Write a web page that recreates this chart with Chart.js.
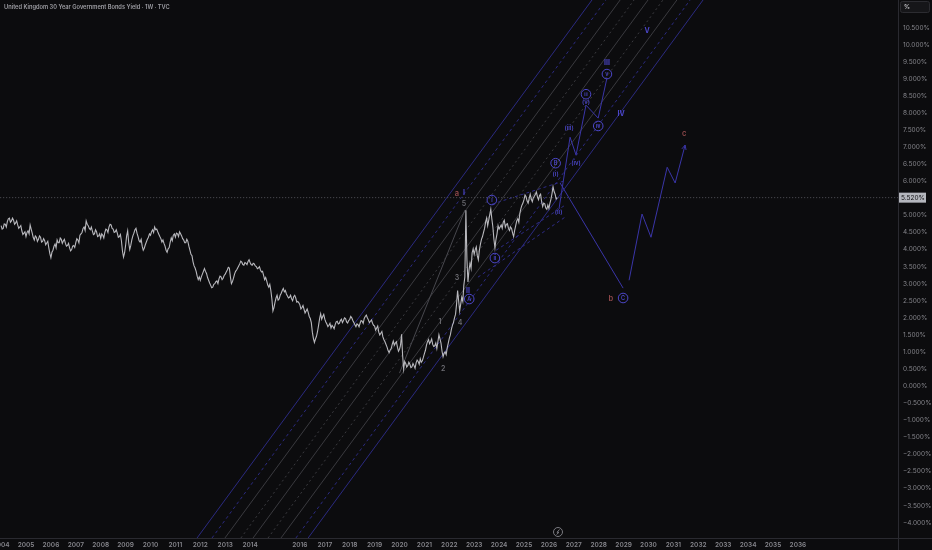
<!DOCTYPE html>
<html lang="en">
<head>
    <meta charset="UTF-8">
    <title>United Kingdom 30 Year Government Bonds Yield</title>
    <script src="https://cdn.jsdelivr.net/npm/chart.js"></script>
    <style>
        html, body { margin: 0; padding: 0; background: #0c0c0e; }
        #wrap { width: 932px; height: 550px; position: relative; }
    </style>
</head>
<body>
<div id="wrap"><canvas id="giltChart" width="932" height="550"></canvas></div>
<script>
    // ---- data ----
    const titleText = 'United Kingdom 30 Year Government Bonds Yield \u00b7 1W \u00b7 TVC';

    // month-start readings, Jan 2004 onwards (%)
    const priceFirstYear = 2004;
    const priceMonthly = [
        4.70, 4.62, 4.74, 4.82, 4.92, 4.84, 4.86, 4.78, 4.72, 4.66, 4.55, 4.48, // 2004
        4.38, 4.55, 4.72, 4.48, 4.28, 4.36, 4.30, 4.36, 4.24, 4.26, 4.19, 4.05, // 2005
        3.76, 3.98, 4.16, 4.28, 4.20, 4.30, 4.25, 4.18, 4.12, 4.05, 4.00, 4.12, // 2006
        4.20, 4.28, 4.42, 4.50, 4.66, 4.84, 4.70, 4.58, 4.54, 4.46, 4.52, 4.40, // 2007
        4.33, 4.42, 4.50, 4.58, 4.66, 4.72, 4.60, 4.52, 4.48, 4.38, 4.25, 3.78, // 2008
        4.12, 4.55, 4.00, 4.28, 4.48, 4.62, 4.38, 4.22, 4.10, 4.04, 4.22, 4.36, // 2009
        4.42, 4.58, 4.66, 4.60, 4.45, 4.32, 4.28, 4.10, 3.92, 4.06, 4.34, 4.42, // 2010
        4.36, 4.46, 4.52, 4.40, 4.28, 4.20, 4.24, 3.98, 3.82, 3.52, 3.36, 3.12, // 2011
        3.10, 3.28, 3.44, 3.30, 3.10, 2.95, 2.90, 3.00, 3.08, 3.14, 3.20, 3.16, // 2012
        3.28, 3.40, 3.46, 3.00, 3.16, 3.36, 3.46, 3.58, 3.63, 3.54, 3.60, 3.65, // 2013
        3.62, 3.54, 3.58, 3.50, 3.46, 3.40, 3.36, 3.12, 3.08, 2.90, 2.80, 2.20, // 2014
        2.45, 2.66, 2.55, 2.72, 2.86, 2.80, 2.64, 2.60, 2.56, 2.62, 2.58, 2.48, // 2015
        2.38, 2.30, 2.25, 2.20, 2.16, 1.98, 1.58, 1.28, 1.46, 1.78, 2.12, 2.04, // 2016
        1.96, 1.82, 1.78, 1.70, 1.74, 1.80, 1.90, 1.84, 1.96, 1.92, 1.98, 1.85, // 2017
        1.95, 2.00, 1.86, 1.74, 1.80, 1.84, 1.90, 1.98, 2.08, 1.94, 1.90, 1.84, // 2018
        1.76, 1.70, 1.58, 1.55, 1.44, 1.30, 1.14, 0.98, 1.10, 1.32, 1.26, 1.14, // 2019
        1.08, 1.52, 0.50, 0.66, 0.60, 0.64, 0.56, 0.60, 0.68, 0.72, 0.80, 0.74, // 2020
        0.95, 1.20, 1.36, 1.30, 1.22, 1.18, 1.10, 1.50, 1.26, 0.86, 1.00, 1.12, // 2021
        1.40, 1.66, 1.86, 2.10, 2.80, 2.20, 2.60, 2.95, 5.15, 3.05, 3.60, 3.90, // 2022
        3.86, 4.08, 3.70, 4.16, 4.38, 4.62, 4.92, 4.86, 5.18, 4.66, 4.05, 4.46, // 2023
        4.60, 4.72, 4.80, 4.66, 4.76, 4.56, 4.62, 4.38, 4.70, 4.90, 5.06, 5.30, // 2024
        5.46, 5.55, 5.36, 5.62, 5.40, 5.56, 5.68, 5.46, 5.62, 5.26, 5.34, 5.18, // 2025
        5.20, 5.48, 5.84, 5.62, 5.52                                            // 2026
    ];
    // mid-month readings (between each month-start reading and the next)
    const priceMidMonth = [
        4.60, 4.75, 4.66, 4.90, 4.80, 4.92, 4.74, 4.84, 4.62, 4.70, 4.44, 4.52, // 2004
        4.50, 4.46, 4.60, 4.35, 4.40, 4.24, 4.40, 4.22, 4.32, 4.14, 4.24, 3.88, // 2005
        3.92, 4.10, 4.05, 4.20, 4.34, 4.18, 4.30, 4.10, 4.18, 3.96, 4.10, 4.06, // 2006
        4.32, 4.20, 4.46, 4.62, 4.56, 4.74, 4.62, 4.66, 4.44, 4.58, 4.38, 4.46, // 2007
        4.46, 4.34, 4.60, 4.50, 4.74, 4.62, 4.50, 4.58, 4.36, 4.44, 3.95, 3.90, // 2008
        4.40, 4.20, 4.12, 4.40, 4.58, 4.48, 4.26, 4.30, 3.98, 4.14, 4.30, 4.46, // 2009
        4.52, 4.50, 4.58, 4.52, 4.38, 4.22, 4.18, 3.98, 4.02, 4.22, 4.26, 4.46, // 2010
        4.48, 4.38, 4.46, 4.32, 4.20, 4.30, 4.10, 3.86, 3.64, 3.46, 3.22, 3.20, // 2011
        3.20, 3.36, 3.36, 3.18, 3.02, 2.88, 2.98, 3.06, 3.00, 3.22, 3.12, 3.24, // 2012
        3.34, 3.48, 3.20, 3.06, 3.28, 3.40, 3.52, 3.66, 3.56, 3.62, 3.56, 3.70, // 2013
        3.56, 3.60, 3.52, 3.44, 3.50, 3.34, 3.24, 3.18, 2.96, 2.98, 2.55, 2.30, // 2014
        2.58, 2.52, 2.66, 2.80, 2.76, 2.70, 2.58, 2.66, 2.50, 2.66, 2.46, 2.44, // 2015
        2.26, 2.36, 2.14, 2.26, 2.04, 1.86, 1.40, 1.38, 1.60, 1.98, 1.96, 2.10, // 2016
        1.88, 1.74, 1.84, 1.78, 1.68, 1.88, 1.82, 1.92, 1.86, 2.00, 1.88, 1.92, // 2017
        2.04, 1.92, 1.80, 1.82, 1.74, 1.92, 1.84, 2.04, 2.00, 1.86, 1.94, 1.78, // 2018
        1.64, 1.76, 1.50, 1.60, 1.36, 1.22, 1.04, 1.06, 1.22, 1.20, 1.30, 1.02, // 2019
        1.20, 0.90, 0.72, 0.56, 0.70, 0.54, 0.66, 0.52, 0.76, 0.64, 0.70, 0.84, // 2020
        1.05, 1.30, 1.24, 1.38, 1.16, 1.26, 1.30, 1.38, 1.02, 0.96, 0.92, 1.26, // 2021
        1.50, 1.78, 2.00, 2.40, 2.50, 2.40, 2.48, 3.20, 3.70, 3.40, 3.45, 4.02, // 2022
        4.00, 3.82, 3.98, 4.30, 4.50, 4.80, 4.70, 5.02, 4.90, 4.30, 4.30, 4.70, // 2023
        4.66, 4.62, 4.86, 4.74, 4.62, 4.66, 4.48, 4.56, 4.84, 4.80, 5.20, 5.36, // 2024
        5.60, 5.42, 5.50, 5.48, 5.52, 5.62, 5.54, 5.58, 5.40, 5.36, 5.22, 5.30, // 2025
        5.36, 5.64, 5.70, 5.48                                                  // 2026
    ];
    const lastPrice = 5.52;

    // big rising channel: each line runs from the bottom edge to the top edge
    const channelBottom = -4.45;
    const channelTop = 11.31;
    const channelStartYears = [2011.87, 2012.47, 2012.99, 2013.63, 2014.12, 2014.72, 2015.24, 2015.84, 2016.33];
    const channelEndYears   = [2027.73, 2028.29, 2028.86, 2029.42, 2029.98, 2030.58, 2031.14, 2031.67, 2032.19];

    // small channel round the 2023-2026 range
    const innerStartYears = [2023.72, 2023.88, 2023.15];
    const innerStartValues = [5.33, 3.98, 3.19];
    const innerEndYears = [2026.57, 2026.65, 2026.65];
    const innerEndValues = [6.00, 5.30, 4.95];

    // impulse guide line (2020 low to 2022 top)
    const impulseYears = [2020.0, 2022.63];
    const impulseValues = [0.38, 5.16];

    // projected waves
    const wavePathYears = [2026.41, 2026.85, 2027.09, 2027.49, 2027.98, 2028.33];
    const wavePathValues = [5.21, 7.29, 6.77, 8.23, 7.85, 9.02];
    const dropYears = [2026.45, 2028.98];
    const dropValues = [5.95, 2.87];
    const riseYears = [2029.22, 2029.74, 2030.10, 2030.75, 2031.07, 2031.47];
    const riseValues = [3.10, 5.04, 4.36, 6.41, 5.95, 7.06];

    // wave labels: [text, year, value]
    const digitLabels = [['1', 2021.63, 1.87], ['2', 2021.75, 0.50], ['3', 2022.31, 3.16], ['4', 2022.43, 1.85], ['5', 2022.59, 5.33]];
    const romanLabels = [['I', 2022.59, 5.65], ['II', 2022.75, 2.78], ['III', 2028.33, 9.46], ['IV', 2028.90, 7.97], ['V', 2029.94, 10.40]];
    const parenLabels = [['(i)', 2026.27, 6.21], ['(ii)', 2026.39, 5.10], ['(iii)', 2026.81, 7.56], ['(iv)', 2027.09, 6.53], ['(v)', 2027.49, 8.32]];
    const circledLabels = [['i', 2023.71, 5.45], ['ii', 2023.83, 3.75], ['A', 2022.80, 2.55], ['B', 2026.27, 6.53], ['C', 2028.98, 2.58], ['iii', 2027.49, 8.55], ['iv', 2027.98, 7.62], ['v', 2028.33, 9.14]];
    const letterLabels = [['a', 2022.31, 5.62], ['b', 2028.49, 2.55], ['c', 2031.43, 7.38]];

    // axis ticks
    const xTickYears = [2004, 2005, 2006, 2007, 2008, 2009, 2010, 2011, 2012, 2013, 2014, 2016, 2017, 2018, 2019, 2020,
        2021, 2022, 2023, 2024, 2025, 2026, 2027, 2028, 2029, 2030, 2031, 2032, 2033, 2034, 2035, 2036];
    const yTickValues = [-4, -3.5, -3, -2.5, -2, -1.5, -1, -0.5, 0, 0.5, 1, 1.5, 2, 2.5, 3, 3.5, 4, 4.5, 5,
        6, 6.5, 7, 7.5, 8, 8.5, 9, 9.5, 10, 10.5];

    // ---- build ----
    const pts = (xs, ys) => xs.map((x, i) => ({ x: x, y: ys[i] }));
    const pricePoints = [];
    priceMonthly.forEach((v, i) => {
        const x = priceFirstYear + i / 12;
        pricePoints.push({ x: x, y: v });
        if (i < priceMidMonth.length) pricePoints.push({ x: x + 1 / 24, y: priceMidMonth[i] });
    });

    const BLUE_LINE = '#2b2a80';
    const GREY_LINE = '#3a3a3f';
    const WAVE = '#3a35a8';
    const WAVE_TEXT = '#4c47c9';
    const FONT = 'Inter, "DejaVu Sans", sans-serif';

    const line = (data, color, dash, width) => ({
        data: data, borderColor: color, borderWidth: width || 1, borderDash: dash || [],
        pointRadius: 0, tension: 0, fill: false
    });

    const datasets = [line(pricePoints, '#b9b9be', [], 1.1)];
    // projection paths
    datasets.push(line(pts(wavePathYears, wavePathValues), WAVE));
    datasets.push(line(pts(dropYears, dropValues), WAVE));
    datasets.push(line(pts(riseYears, riseValues), WAVE));
    datasets.push(line(pts(impulseYears, impulseValues), '#48484e'));
    // last price line
    datasets.push(line([{ x: 2003, y: lastPrice }, { x: 2041, y: lastPrice }], '#55555c', [1, 2]));
    // inner dashed channel
    innerStartYears.forEach((y0, i) => {
        datasets.push(line([{ x: y0, y: innerStartValues[i] }, { x: innerEndYears[i], y: innerEndValues[i] }], '#2e2b88', [3, 3]));
    });
    // big channel: blue borders, grey inside
    const channelLook = [[BLUE_LINE, []], [BLUE_LINE, [3, 3]], [GREY_LINE, []], [GREY_LINE, [2, 3]], [GREY_LINE, []],
        [GREY_LINE, [2, 3]], [GREY_LINE, []], [BLUE_LINE, [3, 3]], [BLUE_LINE, []]];
    channelStartYears.forEach((y0, i) => {
        datasets.push(line([{ x: y0, y: channelBottom }, { x: channelEndYears[i], y: channelTop }], channelLook[i][0], channelLook[i][1]));
    });

    const overlay = {
        id: 'overlay',
        beforeDraw(chart) {
            const c = chart.ctx;
            c.save();
            c.fillStyle = '#0c0c0e';
            c.fillRect(0, 0, chart.width, chart.height);
            c.restore();
        },
        afterDatasetsDraw(chart) {
            const c = chart.ctx, xs = chart.scales.x, ys = chart.scales.y;
            const P = (yr, v) => [xs.getPixelForValue(yr), ys.getPixelForValue(v)];
            c.save();
            // arrowhead on the last projected leg
            const n = riseYears.length;
            const [ax, ay] = P(riseYears[n - 1], riseValues[n - 1]);
            const [bx, by] = P(riseYears[n - 2], riseValues[n - 2]);
            const ang = Math.atan2(ay - by, ax - bx);
            c.strokeStyle = WAVE; c.lineWidth = 1;
            c.beginPath();
            c.moveTo(ax - 5 * Math.cos(ang - 0.45), ay - 5 * Math.sin(ang - 0.45));
            c.lineTo(ax, ay);
            c.lineTo(ax - 5 * Math.cos(ang + 0.45), ay - 5 * Math.sin(ang + 0.45));
            c.stroke();

            c.textAlign = 'center';
            c.textBaseline = 'middle';
            const put = (list, font, color) => list.forEach(([t, yr, v]) => {
                const [x, y] = P(yr, v);
                c.font = font; c.fillStyle = color;
                c.fillText(t, x, y);
            });
            put(digitLabels, '600 7px ' + FONT, '#6c6c72');
            put(romanLabels, '700 7px ' + FONT, WAVE_TEXT);
            put(parenLabels, '600 6px ' + FONT, WAVE_TEXT);
            put(letterLabels, '600 7.5px ' + FONT, '#91494b');
            circledLabels.forEach(([t, yr, v]) => {
                const [x, y] = P(yr, v);
                c.beginPath();
                c.arc(x, y, 4.8, 0, Math.PI * 2);
                c.strokeStyle = WAVE_TEXT; c.lineWidth = 1;
                c.stroke();
                c.font = '600 ' + (t.length > 2 ? 4.5 : 5.5) + 'px ' + FONT;
                c.fillStyle = WAVE_TEXT;
                c.fillText(t, x, y + 0.3);
            });
            c.restore();
        },
        afterDraw(chart) {
            const c = chart.ctx, a = chart.chartArea, ys = chart.scales.y;
            c.save();
            // pane borders
            c.strokeStyle = '#2a2a30'; c.lineWidth = 1;
            c.beginPath();
            c.moveTo(a.right + 0.5, 0); c.lineTo(a.right + 0.5, chart.height);
            c.moveTo(0, a.bottom + 0.5); c.lineTo(chart.width, a.bottom + 0.5);
            c.stroke();
            // last price tag
            const py = ys.getPixelForValue(lastPrice);
            c.fillStyle = '#b4b6bd';
            c.fillRect(a.right + 1, py - 5, 27, 10);
            c.fillStyle = '#111114';
            c.font = '6.5px ' + FONT;
            c.textAlign = 'left'; c.textBaseline = 'middle';
            c.fillText(lastPrice.toFixed(3) + '%', a.right + 3, py + 0.5);
            // unit box
            c.strokeStyle = '#2c2c31'; c.fillStyle = '#161619';
            c.beginPath();
            c.roundRect(a.right + 2.5, 1.5, 29, 11, 2);
            c.fill(); c.stroke();
            c.fillStyle = '#c8c8cc';
            c.font = '600 6px ' + FONT;
            c.fillText('%', a.right + 6, 7);
            // title
            c.fillStyle = '#9d9da3';
            c.font = '600 5.7px ' + FONT;
            c.fillText(titleText, 4, 7);
            // logo mark
            const lx = 558, ly = a.bottom - 6;
            c.strokeStyle = '#7a7a80'; c.lineWidth = 1;
            c.beginPath(); c.arc(lx, ly, 4.5, 0, Math.PI * 2); c.stroke();
            c.beginPath(); c.moveTo(lx + 1.5, ly - 2.5); c.lineTo(lx - 1, ly + 0.3); c.lineTo(lx + 1, ly + 0.3); c.lineTo(lx - 1.5, ly + 2.5); c.stroke();
            c.restore();
        }
    };

    new Chart(document.getElementById('giltChart'), {
        type: 'line',
        data: { datasets: datasets },
        options: {
            responsive: false,
            animation: false,
            parsing: false,
            normalized: true,
            layout: { padding: 0 },
            plugins: { legend: { display: false }, tooltip: { enabled: false } },
            scales: {
                x: {
                    type: 'linear', position: 'bottom',
                    min: 2003.956, max: 2040.02,
                    grid: { display: false, drawTicks: false, tickLength: 0 }, border: { display: false },
                    afterBuildTicks: s => { s.ticks = xTickYears.map(v => ({ value: v })); },
                    afterFit: s => { s.height = 12; s.paddingLeft = 0; s.paddingRight = 0; },
                    ticks: {
                        autoSkip: false, maxRotation: 0, padding: 3,
                        color: '#85858b', font: { family: FONT, size: 6.5, weight: '600' },
                        callback: v => String(v)
                    }
                },
                y: {
                    type: 'linear', position: 'right',
                    min: -4.45, max: 11.31,
                    grid: { display: false, drawTicks: false, tickLength: 0 }, border: { display: false },
                    afterBuildTicks: s => { s.ticks = yTickValues.map(v => ({ value: v })); },
                    afterFit: s => { s.width = 34; s.paddingTop = 0; s.paddingBottom = 0; },
                    ticks: {
                        autoSkip: false, padding: 5,
                        color: '#85858b', font: { family: FONT, size: 6.5 },
                        callback: v => (v < 0 ? '\u2212' : '') + Math.abs(v).toFixed(3) + '%'
                    }
                }
            }
        },
        plugins: [overlay]
    });
</script>
</body>
</html>
